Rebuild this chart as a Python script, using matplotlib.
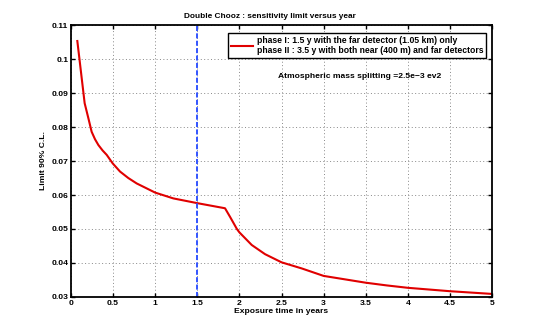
import matplotlib
matplotlib.use("Agg")
import matplotlib.pyplot as plt

plt.rcParams.update({
    "font.family": "Liberation Sans",
    "font.weight": "bold",
    "axes.labelweight": "bold",
    "axes.titleweight": "bold",
    "font.size": 6.1,
    "axes.linewidth": 1.3,
    "xtick.direction": "in",
    "ytick.direction": "in",
    "xtick.top": True,
    "ytick.right": True,
})

# sensitivity limit (90% C.L.) vs exposure time
years = [0.075, 0.162, 0.206, 0.245, 0.285, 0.325, 0.375, 0.424, 0.495, 0.582,
         0.68, 0.78, 1.0, 1.215, 1.5, 1.829, 1.888, 1.97, 2.0, 2.146,
         2.304, 2.5, 2.74, 3.0, 3.25, 3.5, 3.75, 4.0, 4.25, 4.5, 4.75, 5.0]
limit = [0.1053, 0.0870, 0.0826, 0.0786, 0.0764, 0.0747, 0.0731, 0.0718, 0.0693, 0.0669,
         0.0650, 0.0634, 0.0607, 0.0590, 0.0576, 0.0561, 0.0536, 0.0500, 0.0490, 0.0453,
         0.0426, 0.0402, 0.0384, 0.0362, 0.0352, 0.0342, 0.0334, 0.0327, 0.0322, 0.0317,
         0.0313, 0.0309]

phase1_end = 1.5
x_ticks = [0, 0.5, 1, 1.5, 2, 2.5, 3, 3.5, 4, 4.5, 5]
x_ticklabels = ["0", "0.5", "1", "1.5", "2", "2.5", "3", "3.5", "4", "4.5", "5"]
y_ticks = [0.03, 0.04, 0.05, 0.06, 0.07, 0.08, 0.09, 0.10, 0.11]
y_ticklabels = ["0.03", "0.04", "0.05", "0.06", "0.07", "0.08", "0.09", "0.1", "0.11"]

fig = plt.figure(figsize=(5.45, 3.25), dpi=100)
ax = fig.add_axes([0.1303, 0.0862, 0.7725, 0.8368])

ax.plot(years, limit, color="#e00000", lw=1.5,
        label="phase I: 1.5 y with the far detector (1.05 km) only\n"
              "phase II : 3.5 y with both near (400 m) and far detectors")
ax.axvline(phase1_end, color="#3355ff", lw=1.4, ls=(0, (2.6, 1.2)))

ax.set_xlim(0, 5)
ax.set_ylim(0.03, 0.11)
ax.set_xticks(x_ticks)
ax.set_xticklabels(x_ticklabels)
ax.set_yticks(y_ticks)
ax.set_yticklabels(y_ticklabels)
ax.tick_params(length=3, width=1.0, pad=2)
ax.grid(True, ls=(0, (1, 2.5)), color="#888888", lw=0.7)

ax.set_title("Double Chooz : sensitivity limit versus year", fontsize=5.95,
             pad=5, x=0.473)
ax.set_xlabel("Exposure time in years", labelpad=1)
ax.set_ylabel("Limit 90% C.L.", labelpad=3)

ax.text(3.43, 0.0948, "Atmospheric mass splitting =2.5e\u22123 ev2",
        ha="center", va="center")

leg = ax.legend(loc="upper right", bbox_to_anchor=(0.995, 0.985), fancybox=False,
                edgecolor="black", framealpha=1, handlelength=2.6,
                borderpad=0.3, handletextpad=0.4, fontsize=6.2)
leg.get_frame().set_linewidth(1.0)

fig.savefig("out.png", dpi=100)
